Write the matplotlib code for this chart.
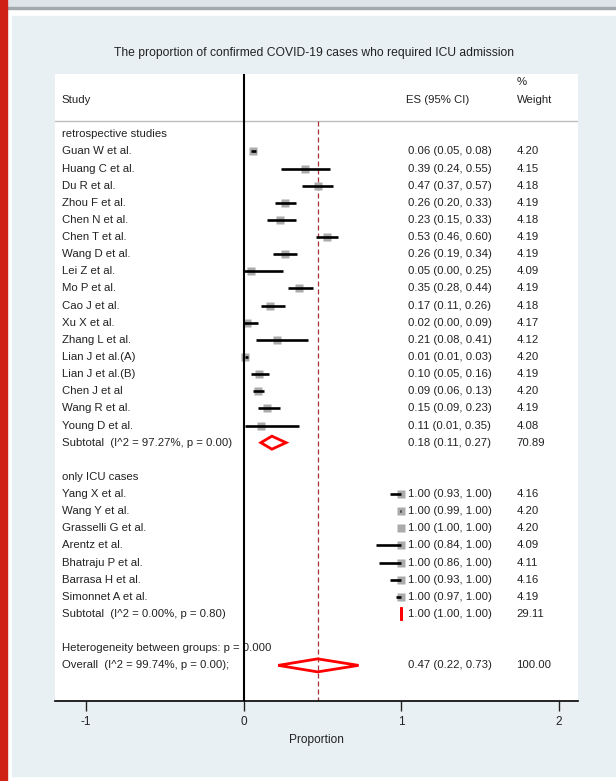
import numpy as np
import matplotlib.pyplot as plt
from matplotlib.patches import Rectangle, Polygon

plt.rcParams['font.family'] = ['Liberation Sans', 'DejaVu Sans']

title = "The proportion of confirmed COVID-19 cases who required ICU admission"

# retrospective studies
retro_names = ["Guan W et al.", "Huang C et al.", "Du R et al.", "Zhou F et al.",
               "Chen N et al.", "Chen T et al.", "Wang D et al.", "Lei Z et al.",
               "Mo P et al.", "Cao J et al.", "Xu X et al.", "Zhang L et al.",
               "Lian J et al.(A)", "Lian J et al.(B)", "Chen J et al", "Wang R et al.",
               "Young D et al."]
retro_es = [0.06, 0.39, 0.47, 0.26, 0.23, 0.53, 0.26, 0.05, 0.35, 0.17, 0.02, 0.21,
            0.01, 0.10, 0.09, 0.15, 0.11]
retro_lo = [0.05, 0.24, 0.37, 0.20, 0.15, 0.46, 0.19, 0.00, 0.28, 0.11, 0.00, 0.08,
            0.01, 0.05, 0.06, 0.09, 0.01]
retro_hi = [0.08, 0.55, 0.57, 0.33, 0.33, 0.60, 0.34, 0.25, 0.44, 0.26, 0.09, 0.41,
            0.03, 0.16, 0.13, 0.23, 0.35]
retro_w = [4.20, 4.15, 4.18, 4.19, 4.18, 4.19, 4.19, 4.09, 4.19, 4.18, 4.17, 4.12,
           4.20, 4.19, 4.20, 4.19, 4.08]
retro_sub = (0.18, 0.11, 0.27, 70.89)
retro_sub_label = "Subtotal  (I^2 = 97.27%, p = 0.00)"

# only ICU cases
icu_names = ["Yang X et al.", "Wang Y et al.", "Grasselli G et al.", "Arentz et al.",
             "Bhatraju P et al.", "Barrasa H et al.", "Simonnet A et al."]
icu_es = [1.00, 1.00, 1.00, 1.00, 1.00, 1.00, 1.00]
icu_lo = [0.93, 0.99, 1.00, 0.84, 0.86, 0.93, 0.97]
icu_hi = [1.00, 1.00, 1.00, 1.00, 1.00, 1.00, 1.00]
icu_w = [4.16, 4.20, 4.20, 4.09, 4.11, 4.16, 4.19]
icu_sub = (1.00, 1.00, 1.00, 29.11)
icu_sub_label = "Subtotal  (I^2 = 0.00%, p = 0.80)"

overall = (0.47, 0.22, 0.73, 100.00)
overall_label = "Overall  (I^2 = 99.74%, p = 0.00);"
het_label = "Heterogeneity between groups: p = 0.000"

xticks = [-1, 0, 1, 2]

W, H = 616, 781
fig = plt.figure(figsize=(W / 100, H / 100), dpi=100, facecolor='white')

# page decorations behind the axes
fig.patches.append(Rectangle((12 / W, 1 - 776 / H), (W - 12) / W, 760 / H,
                             transform=fig.transFigure, color='#e9f0f3', zorder=-3))
fig.patches.append(Rectangle((0, 1 - 6.5 / H), 1, 6.5 / H,
                             transform=fig.transFigure, color='#dde5ea', zorder=-3))
fig.patches.append(Rectangle((0, 1 - 8.5 / H), 1, 2 / H,
                             transform=fig.transFigure, color='#a3a8ad', zorder=-3))
fig.patches.append(Rectangle((0, 0), 7 / W, 1,
                             transform=fig.transFigure, color='#cf2116', zorder=-2))

ax = fig.add_axes([55 / W, 1 - 701 / H, 523 / W, 627 / H])
ax.set_facecolor('white')
ax.set_xlim(-1.196, 2.122)
ax.set_ylim(33.08, -3.52)
for s in ['top', 'left', 'right']:
    ax.spines[s].set_visible(False)
ax.spines['bottom'].set_linewidth(1.2)
ax.set_xticks(xticks)
ax.set_xticklabels([str(t) for t in xticks])
ax.tick_params(axis='x', length=7, width=1, pad=4, labelsize=8.5, colors='#222222')
ax.set_yticks([])
ax.set_xlabel("Proportion", fontsize=8.6, labelpad=4, color='#222222')

fig.text(314 / W, 1 - 53 / H, title, ha='center', va='center', fontsize=8.7, color='#222222')

fs = 8.2
tc = '#222222'
x_lab, x_es, x_w = -1.152, 1.044, 1.732

# header
ax.text(x_lab, -2.0, "Study", va='center', fontsize=fs, color=tc)
ax.text(1.03, -2.0, "ES (95% CI)", va='center', fontsize=fs, color=tc)
ax.text(x_w, -3.05, "%", va='center', fontsize=fs, color=tc)
ax.text(x_w, -2.0, "Weight", va='center', fontsize=fs, color=tc)
ax.axhline(-0.75, color='#bdbdbd', lw=1)

ax.axvline(0, color='black', lw=1.5, zorder=5)
ax.plot([overall[0], overall[0]], [-0.75, 33.08], color='#a3303a', lw=0.9,
        ls=(0, (4, 2.4)), zorder=2)


def study_row(y, name, es, lo, hi, w):
    ax.text(x_lab, y, name, va='center', fontsize=fs, color=tc)
    ax.plot(es, y, marker='s', ms=6.3 * np.sqrt(w / 4.2), color='#ababab',
            mec='none', zorder=3)
    ax.plot([lo, hi], [y, y], color='black', lw=1.9, solid_capstyle='butt', zorder=4)
    ax.text(x_es, y, f"{es:.2f} ({lo:.2f}, {hi:.2f})", va='center', fontsize=fs, color=tc)
    ax.text(x_w, y, f"{w:.2f}", va='center', fontsize=fs, color=tc)


def pooled_row(y, label, vals, h=0.38):
    es, lo, hi, w = vals
    ax.text(x_lab, y, label, va='center', fontsize=fs, color=tc)
    ax.add_patch(Polygon([(lo, y), (es, y - h), (hi, y), (es, y + h)], closed=True,
                         fill=False, edgecolor='#ff0000', lw=2.0, zorder=4))
    ax.text(x_es, y, f"{es:.2f} ({lo:.2f}, {hi:.2f})", va='center', fontsize=fs, color=tc)
    ax.text(x_w, y, f"{w:.2f}", va='center', fontsize=fs, color=tc)


y = 0
ax.text(x_lab, y, "retrospective studies", va='center', fontsize=fs, color=tc)
for i in range(len(retro_names)):
    y += 1
    study_row(y, retro_names[i], retro_es[i], retro_lo[i], retro_hi[i], retro_w[i])
y += 1
pooled_row(y, retro_sub_label, retro_sub)

y += 2
ax.text(x_lab, y, "only ICU cases", va='center', fontsize=fs, color=tc)
for i in range(len(icu_names)):
    y += 1
    study_row(y, icu_names[i], icu_es[i], icu_lo[i], icu_hi[i], icu_w[i])
y += 1
pooled_row(y, icu_sub_label, icu_sub)

y += 2
ax.text(x_lab, y, het_label, va='center', fontsize=fs, color=tc)
y += 1
pooled_row(y, overall_label, overall)

fig.savefig("out.png", dpi=100, facecolor=fig.get_facecolor())
